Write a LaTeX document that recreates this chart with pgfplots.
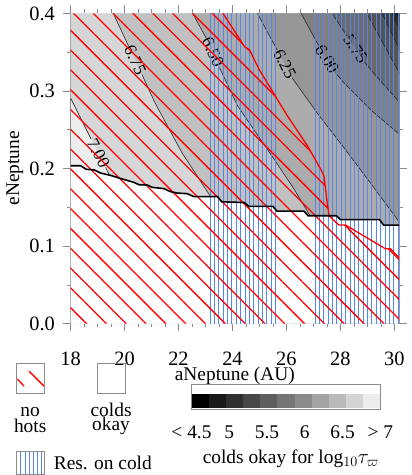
\documentclass[border=0pt]{standalone}
\usepackage{pgfplots}
\pgfplotsset{compat=1.18}
\usepackage{fontspec}
\setmainfont{Liberation Serif}
\usetikzlibrary{patterns.meta}
\definecolor{resblue}{RGB}{85,135,235}
\definecolor{edgeblue}{RGB}{25,55,150}

\begin{document}
\fontsize{19.5}{15}\selectfont
\begin{tikzpicture}
\begin{axis}[
  scale only axis, width=330.7pt, height=312pt,
  xmin=18, xmax=30.18, ymin=0, ymax=0.4,
  xtick={18,20,22,24,26,28,30}, minor x tick num=3,
  xticklabels={18,20,22,24,26,28,30},
  ytick={0,0.1,0.2,0.3,0.4}, minor y tick num=1,
  yticklabels={0.0,0.1,0.2,0.3,0.4},
  tick align=outside, major tick length=8pt, minor tick length=4pt,
  axis line style={black!45}, every tick/.style={black!45},
  tick label style={font=\fontsize{20.5}{20}\selectfont},
  xticklabel style={anchor=base, yshift=-34.7pt},
  yticklabel style={xshift=-1pt},
  xlabel={aNeptune (AU)}, ylabel={eNeptune},
  xlabel style={at={(axis description cs:0.5,0)}, anchor=base, yshift=-57.3pt},
  ylabel style={at={(axis description cs:-0.1563,0.5)}, anchor=base},
  unbounded coords=jump,
]
% grey levels of log10 tau, lightest first
\addplot[fill=black!7, draw=none] coordinates {(18,0) (30.2,0) (30.2,0.4) (18,0.4)} -- cycle;
\addplot[fill=black!16, draw=none] coordinates {(18,0.291) (18.762,0.2379) (19.031,0.2196) (19.300,0.2013) (19.425,0.1927) (19.584,0.1821) (19.584,0) (30.2,0) (30.2,0.4) (18,0.4)} -- cycle;
\addplot[fill=black!24.5, draw=none] coordinates {(19.584,0.4) (20.144,0.3583) (20.394,0.3397) (20.645,0.3212) (21.131,0.2846) (22.125,0.2205) (23.157,0.1654) (23.414,0.15) (23.414,0) (30.2,0) (30.2,0.4)} -- cycle;
\addplot[fill=black!32.5, draw=none] coordinates {(22.530,0.4) (23.035,0.3674) (23.278,0.3504) (23.521,0.3300) (24.188,0.2808) (25.551,0.2115) (26.287,0.1731) (26.840,0.1410) (27.024,0.1282) (27.024,0) (30.2,0) (30.2,0.4)} -- cycle;
\addplot[fill=black!41, draw=none] coordinates {(24.924,0.4) (25.657,0.3527) (25.937,0.3346) (26.217,0.3165) (27.134,0.2718) (28.129,0.2269) (29.234,0.1756) (30.2,0.13) (30.2,0.4)} -- cycle;
\addplot[fill=black!50, draw=none] coordinates {(26.545,0.4) (27.190,0.3585) (27.503,0.3410) (27.816,0.3236) (28.129,0.3103) (29.160,0.2744) (30.2,0.2436) (30.2,0.4)} -- cycle;
\addplot[fill=black!58, draw=none] coordinates {(27.687,0.4) (28.243,0.3709) (28.571,0.3538) (28.899,0.3368) (29.418,0.3154) (30.2,0.285) (30.2,0.4)} -- cycle;
\addplot[fill=black!67, draw=none] coordinates {(28.98,0.4) (29.6,0.36) (30.2,0.322) (30.2,0.4)} -- cycle;
\addplot[fill=black!75, draw=none] coordinates {(29.54,0.4) (30.2,0.353) (30.2,0.4)} -- cycle;
\addplot[fill=black!83, draw=none] coordinates {(29.91,0.4) (30.2,0.378) (30.2,0.4)} -- cycle;
\addplot[fill=black!92, draw=none] coordinates {(30.05,0.4) (30.2,0.39) (30.2,0.4)} -- cycle;
\addplot[fill=black, draw=none] coordinates {(30.12,0.4) (30.2,0.395) (30.2,0.4)} -- cycle;

% contour lines, broken where the labels sit
\addplot[black!85, line width=0.6pt] coordinates {(18,0.291) (18.762,0.2379) (19.031,nan) (19.300,0.2013) (19.425,0.1927) (19.584,0.1821)};
\addplot[black!85, line width=0.6pt] coordinates {(19.584,0.4) (20.144,0.3583) (20.394,nan) (20.645,0.3212) (21.131,0.2846) (22.125,0.2205) (23.157,0.1654) (23.414,0.15)};
\addplot[black!85, line width=0.6pt] coordinates {(22.530,0.4) (23.035,0.3674) (23.278,nan) (23.521,0.3300) (24.188,0.2808) (25.551,0.2115) (26.287,0.1731) (26.840,0.1410) (27.024,0.1282)};
\addplot[black!85, line width=0.6pt] coordinates {(24.924,0.4) (25.657,0.3527) (25.937,nan) (26.217,0.3165) (27.134,0.2718) (28.129,0.2269) (29.234,0.1756) (30.2,0.13)};
\addplot[black!85, line width=0.6pt] coordinates {(26.545,0.4) (27.190,0.3585) (27.503,nan) (27.816,0.3236) (28.129,0.3103) (29.160,0.2744) (30.2,0.2436)};
\addplot[black!85, line width=0.6pt] coordinates {(27.687,0.4) (28.243,0.3709) (28.571,nan) (28.899,0.3368) (29.418,0.3154) (30.2,0.285)};
\addplot[black!85, line width=0.6pt] coordinates {(28.98,0.4) (29.6,0.36) (30.2,0.322)};
\addplot[black!85, line width=0.6pt] coordinates {(29.54,0.4) (30.2,0.353)};
\addplot[black!85, line width=0.6pt] coordinates {(29.91,0.4) (30.2,0.378)};
\addplot[black!85, line width=0.6pt] coordinates {(30.05,0.4) (30.2,0.39)};

\begin{scope}[every node/.style={font=\fontsize{17.5}{17.5}\selectfont, inner sep=0pt}]
\node[rotate=-63] at (axis cs:19.031,0.2196) {7.00};
\node[rotate=-65] at (axis cs:20.394,0.3397) {6.75};
\node[rotate=-65] at (axis cs:23.278,0.3504) {6.50};
\node[rotate=-62] at (axis cs:25.937,0.3346) {6.25};
\node[rotate=-58] at (axis cs:27.503,0.3410) {6.00};
\node[rotate=-56] at (axis cs:28.571,0.3538) {5.75};
\end{scope}

% below the boundary: colds okay everywhere
\addplot[fill=white, draw=none] coordinates {(18,0.2035) (18.38,0.2035) (18.57,0.199) (18.88,0.198) (19.12,0.194) (19.49,0.191) (19.86,0.187) (20.35,0.182) (20.54,0.179) (20.84,0.1786) (21.03,0.1756) (21.46,0.174) (21.7,0.1701) (21.95,0.1683) (22.32,0.1675) (22.57,0.1637) (23.45,0.1637) (23.6,0.157) (24.45,0.156) (24.6,0.151) (25.5,0.151) (25.65,0.145) (26.65,0.145) (26.8,0.139) (27.85,0.139) (28.0,0.134) (29.45,0.134) (29.6,0.127) (30.2,0.127)} \closedcycle;

% resonances on cold
\addplot[draw=none, pattern={Lines[angle=90,distance=4.4pt,line width=0.75pt]}, pattern color=resblue] coordinates {(23.12,0) (23.12,0.4) (25.62,0.4) (25.62,0)} -- cycle;
\addplot[draw=none, pattern={Lines[angle=90,distance=4.4pt,line width=0.75pt]}, pattern color=resblue] coordinates {(26.92,0) (26.92,0.4) (30.2,0.4) (30.2,0)} -- cycle;
\addplot[edgeblue, line width=1.4pt] coordinates {(30.18,0) (30.18,0.4)};

% no hots
\addplot[draw=none, pattern={Lines[angle=-45,distance=14.1pt,line width=1.3pt]}, pattern color=red] coordinates {(18,0) (18,0.4) (23.65,0.4) (24.45,0.357) (24.63,0.353) (25.0,0.327) (26.04,0.2676) (26.29,0.2547) (26.78,0.2291) (27.27,0.1991) (27.39,0.1906) (27.51,0.156) (27.58,0.139) (27.76,0.133) (27.94,0.127) (28.19,0.127) (29.66,0.0965) (29.85,0.0965) (30.2,0.084) (30.2,0)} -- cycle;
\addplot[red, line width=1.3pt] coordinates {(23.65,0.4) (24.45,0.357) (24.63,0.353) (25.0,0.327) (26.04,0.2676) (26.29,0.2547) (26.78,0.2291) (27.27,0.1991) (27.39,0.1906) (27.51,0.156) (27.58,0.139) (27.76,0.133) (27.94,0.127) (28.19,0.127) (29.66,0.0965) (29.85,0.0965) (30.2,0.084)};

\addplot[black, line width=1.6pt] coordinates {(18,0.2035) (18.38,0.2035) (18.57,0.199) (18.88,0.198) (19.12,0.194) (19.49,0.191) (19.86,0.187) (20.35,0.182) (20.54,0.179) (20.84,0.1786) (21.03,0.1756) (21.46,0.174) (21.7,0.1701) (21.95,0.1683) (22.32,0.1675) (22.57,0.1637) (23.45,0.1637) (23.6,0.157) (24.45,0.156) (24.6,0.151) (25.5,0.151) (25.65,0.145) (26.65,0.145) (26.8,0.139) (27.85,0.139) (28.0,0.134) (29.45,0.134) (29.6,0.127) (30.2,0.127)};
\end{axis}

% grey scale key
\begin{axis}[
  at={(121.7pt,-86.3pt)}, anchor=south west,
  scale only axis, width=190pt, height=25pt,
  xmin=4.5, xmax=7, ymin=-1, ymax=24,
  ytick=\empty, xtick={4.5,5,5.5,6,6.5,7},
  xticklabels={< 4.5,5,5.5,6,6.5,> 7},
  major tick length=0pt,
  axis line style={black!45},
  xticklabel style={anchor=base, yshift=-29pt},
  xlabel={colds okay for log$_{10}\tau_{\varpi}$},
  xlabel style={at={(axis description cs:0.5,0)}, anchor=base, yshift=-54.7pt, xshift=5pt},
]
\addplot[fill=black, draw=none] coordinates {(4.5,14.6) (4.7273,14.6)} \closedcycle;
\addplot[fill=black!90, draw=none] coordinates {(4.7273,14.6) (4.9545,14.6)} \closedcycle;
\addplot[fill=black!81, draw=none] coordinates {(4.9545,14.6) (5.1818,14.6)} \closedcycle;
\addplot[fill=black!72, draw=none] coordinates {(5.1818,14.6) (5.4091,14.6)} \closedcycle;
\addplot[fill=black!63, draw=none] coordinates {(5.4091,14.6) (5.6364,14.6)} \closedcycle;
\addplot[fill=black!54, draw=none] coordinates {(5.6364,14.6) (5.8636,14.6)} \closedcycle;
\addplot[fill=black!45, draw=none] coordinates {(5.8636,14.6) (6.0909,14.6)} \closedcycle;
\addplot[fill=black!36, draw=none] coordinates {(6.0909,14.6) (6.3182,14.6)} \closedcycle;
\addplot[fill=black!27, draw=none] coordinates {(6.3182,14.6) (6.5455,14.6)} \closedcycle;
\addplot[fill=black!17, draw=none] coordinates {(6.5455,14.6) (6.7727,14.6)} \closedcycle;
\addplot[fill=black!7, draw=none] coordinates {(6.7727,14.6) (7.0,14.6)} \closedcycle;
\end{axis}

% legend keys
\begin{scope}[x=1pt, y=1pt]
\draw[black!45, line width=0.8pt] (-54.3,-39.7) rectangle (-26,-70.7);
\draw[red, line width=1.3pt] (-53.3,-56) -- (-46.7,-63);
\draw[red, line width=1.3pt] (-41.7,-48) -- (-26.7,-63);
\node[anchor=base] at (-40.6,-93.7) {no};
\node[anchor=base] at (-40.6,-109.7) {hots};
\draw[black!45, line width=0.8pt] (26.7,-39.7) rectangle (55,-70.7);
\node[anchor=base] at (40.8,-93.7) {colds};
\node[anchor=base] at (40.8,-107.5) {okay};
\draw[black!45, line width=0.8pt, pattern={Lines[angle=90,distance=4.2pt,line width=0.8pt]}, pattern color=resblue] (-54.3,-128.7) rectangle (-26,-152);
\node[anchor=base west, inner sep=0pt] at (-17,-147) {Res. on cold};
\end{scope}
\end{tikzpicture}
\end{document}
